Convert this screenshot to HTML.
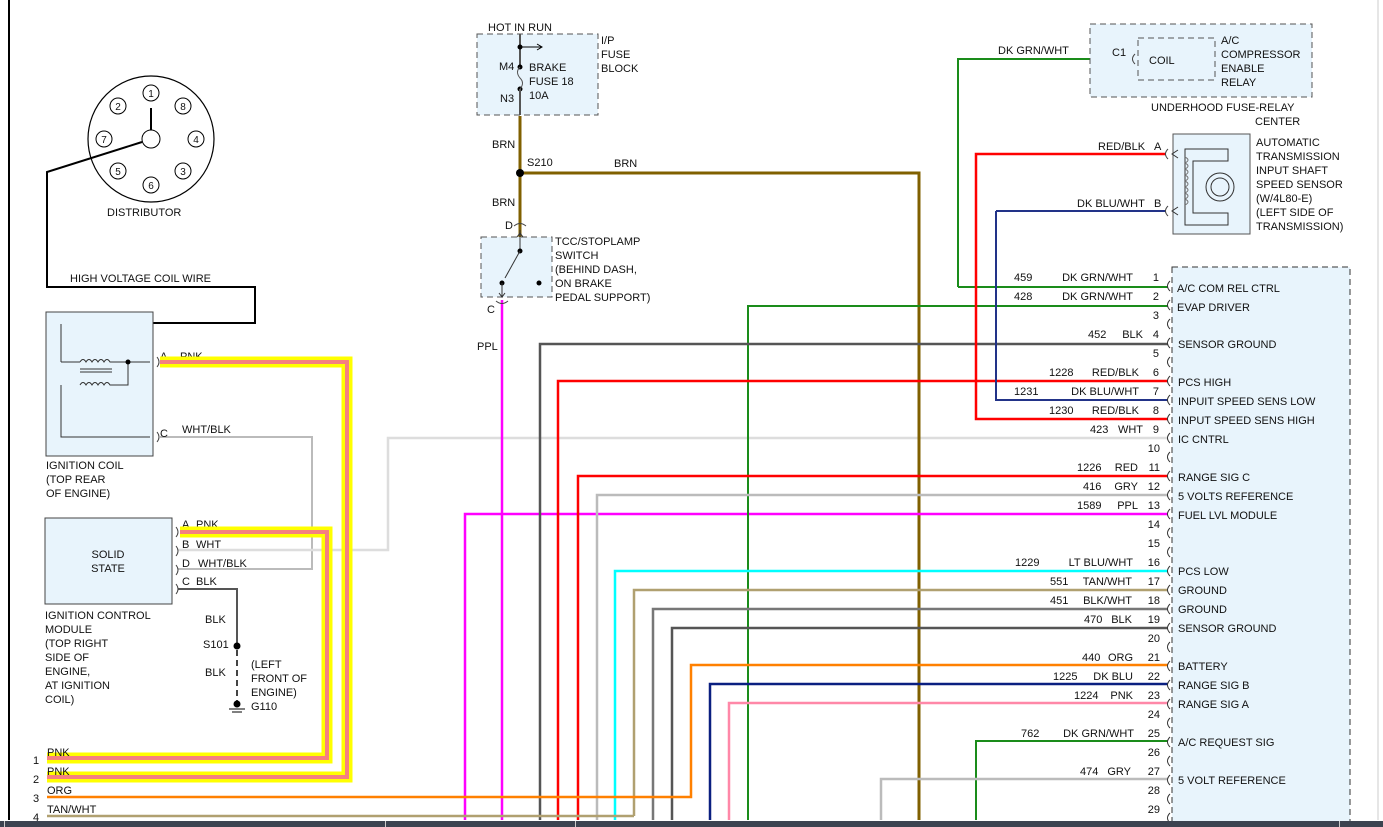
<!DOCTYPE html>
<html><head><meta charset="utf-8"><style>
html,body{margin:0;padding:0;background:#fff;width:1383px;height:827px;overflow:hidden}
svg{display:block}
text{font-family:"Liberation Sans",sans-serif;font-size:11px;fill:#111}
</style></head><body>
<svg width="1383" height="827" viewBox="0 0 1383 827">
<rect x="0" y="0" width="1383" height="827" fill="#fff"/>
<line x1="9" y1="0" x2="9" y2="820" stroke="#000" stroke-width="2"/>
<line x1="1378" y1="0" x2="1378" y2="820" stroke="#ccc" stroke-width="1"/>

<!-- Distributor -->
<circle cx="151" cy="139" r="63" fill="none" stroke="#000" stroke-width="1.2"/>
<g fill="#fff" stroke="#000" stroke-width="1">
<circle cx="151" cy="93" r="8"/><circle cx="118" cy="106" r="8"/><circle cx="183" cy="106" r="8"/>
<circle cx="104" cy="139" r="8"/><circle cx="196" cy="139" r="8"/><circle cx="118" cy="171" r="8"/>
<circle cx="183" cy="171" r="8"/><circle cx="151" cy="185" r="8"/><circle cx="151" cy="139" r="9"/>
</g>
<line x1="151" y1="108" x2="151" y2="130" stroke="#000" stroke-width="2"/>
<g font-size="10" text-anchor="middle">
<text x="151" y="97" style="font-size:10px">1</text><text x="118" y="110" style="font-size:10px">2</text><text x="183" y="110" style="font-size:10px">8</text>
<text x="104" y="143" style="font-size:10px">7</text><text x="196" y="143" style="font-size:10px">4</text><text x="118" y="175" style="font-size:10px">5</text>
<text x="183" y="175" style="font-size:10px">3</text><text x="151" y="189" style="font-size:10px">6</text>
</g>
<text x="107" y="216">DISTRIBUTOR</text>
<polyline points="142,142 47,172 47,287 255,287 255,323 153,323" fill="none" stroke="#000" stroke-width="2"/>
<text x="70" y="282">HIGH VOLTAGE COIL WIRE</text>

<!-- Ignition coil -->
<rect x="46" y="312" width="107" height="144" fill="#e8f4fc" stroke="#444" stroke-width="1"/>
<polyline points="61,362 80,362" fill="none" stroke="#333"/>
<polyline points="61,324 61,362" fill="none" stroke="#333"/>
<path d="M80,362 q3,-5 6,0 q3,-5 6,0 q3,-5 6,0 q3,-5 6,0 q3,-5 6,0 L150,362" fill="none" stroke="#333"/>
<line x1="80" y1="369" x2="112" y2="369" stroke="#333"/><line x1="80" y1="372" x2="112" y2="372" stroke="#333"/>
<path d="M80,385 q3,-5 6,0 q3,-5 6,0 q3,-5 6,0 q3,-5 6,0 q3,-5 6,0 L128,385 L128,362" fill="none" stroke="#333"/>
<circle cx="128" cy="362" r="2.5" fill="#000"/>
<polyline points="61,385 61,437 150,437" fill="none" stroke="#333"/>
<text x="46" y="469">IGNITION COIL</text><text x="46" y="483">(TOP REAR</text><text x="46" y="497">OF ENGINE)</text>

<!-- ICM -->
<rect x="45" y="518" width="127" height="86" fill="#e8f4fc" stroke="#444"/>
<text x="108" y="558" text-anchor="middle">SOLID</text><text x="108" y="572" text-anchor="middle">STATE</text>
<text x="45" y="619">IGNITION CONTROL</text><text x="45" y="633">MODULE</text><text x="45" y="647">(TOP RIGHT</text>
<text x="45" y="661">SIDE OF</text><text x="45" y="675">ENGINE,</text><text x="45" y="689">AT IGNITION</text><text x="45" y="703">COIL)</text>

<!-- gray wires left -->
<polyline points="160,437 312,437 312,569 178,569" fill="none" stroke="#bbb" stroke-width="2"/>
<polyline points="178,550 388,550 388,438 1168,438" fill="none" stroke="#ddd" stroke-width="2.5"/>
<polyline points="178,589 237,589 237,645" fill="none" stroke="#555" stroke-width="2"/>
<line x1="237" y1="650" x2="237" y2="702" stroke="#444" stroke-width="2" stroke-dasharray="6,4"/>
<circle cx="237" cy="646" r="3.5" fill="#000"/><circle cx="237" cy="704" r="3.5" fill="#000"/>
<line x1="229" y1="709" x2="245" y2="709" stroke="#000"/><line x1="232" y1="712" x2="242" y2="712" stroke="#000"/>
<text x="205" y="623">BLK</text><text x="203" y="648">S101</text><text x="205" y="676">BLK</text>
<text x="251" y="668">(LEFT</text><text x="251" y="682">FRONT OF</text><text x="251" y="696">ENGINE)</text><text x="251" y="710">G110</text>
<text x="160" y="360">A</text><text x="180" y="360">PNK</text>
<text x="160" y="437">C</text><text x="182" y="433">WHT/BLK</text>
<text x="182" y="528">A</text><text x="196" y="528">PNK</text>
<text x="182" y="548">B</text><text x="196" y="548">WHT</text>
<text x="182" y="567">D</text><text x="198" y="567">WHT/BLK</text>
<text x="182" y="585">C</text><text x="196" y="585">BLK</text>
<g fill="none" stroke="#444" stroke-width="1">
<path d="M157,357 q4,5 0,10"/><path d="M157,432 q4,5 0,10"/>
<path d="M176,527 q4,5 0,10"/><path d="M176,546 q4,5 0,10"/><path d="M176,565 q4,5 0,10"/><path d="M176,584 q4,5 0,10"/>
</g>

<!-- pink/yellow -->
<polyline points="160,362 347,362 347,777 47,777" fill="none" stroke="#ffff00" stroke-width="11"/>
<polyline points="180,532 327,532 327,758 47,758" fill="none" stroke="#ffff00" stroke-width="11"/>
<polyline points="160,362 347,362 347,777 47,777" fill="none" stroke="#f58080" stroke-width="4"/>
<polyline points="180,532 327,532 327,758 47,758" fill="none" stroke="#f58080" stroke-width="4"/>
<text x="47" y="756">PNK</text><text x="47" y="775">PNK</text><text x="47" y="794">ORG</text><text x="47" y="813">TAN/WHT</text>
<text x="33" y="764">1</text><text x="33" y="783">2</text><text x="33" y="802">3</text><text x="33" y="821">4</text>

<!-- vertical/horizontal colored wires -->
<g fill="none" stroke-width="2">
<polyline points="520,116 520,240" stroke="#806000" stroke-width="3"/>
<polyline points="520,173 919,173 919,820" stroke="#806000" stroke-width="3"/>
<polyline points="502,300 502,820" stroke="#ff00ff" stroke-width="2.5"/>
<polyline points="465,820 465,514 1168,514" stroke="#ff00ff" stroke-width="2.5"/>
<polyline points="958,287 958,59 1140,59" stroke="#1a8c1a"/>
<polyline points="958,287 1168,287" stroke="#1a8c1a"/>
<polyline points="748,820 748,306 1168,306" stroke="#1a8c1a"/>
<polyline points="540,820 540,344 1168,344" stroke="#555" stroke-width="2.5"/>
<polyline points="558,820 558,381 1168,381" stroke="#ff0000" stroke-width="2.5"/>
<polyline points="996,211 996,400 1168,400" stroke="#223388"/>
<polyline points="1166,211 996,211" stroke="#223388"/>
<polyline points="1166,154 976,154 976,419 1168,419" stroke="#ff0000" stroke-width="2.5"/>
<polyline points="578,820 578,476 1168,476" stroke="#ff0000" stroke-width="2.5"/>
<polyline points="597,820 597,495 1168,495" stroke="#bbb" stroke-width="2.5"/>
<polyline points="615,820 615,571 1168,571" stroke="#00ffff" stroke-width="2.5"/>
<polyline points="634,816 634,590 1168,590" stroke="#b0a070" stroke-width="2.5"/>
<polyline points="47,816 634,816" stroke="#b0a070" stroke-width="2.5"/>
<polyline points="653,820 653,609 1168,609" stroke="#777" stroke-width="2.5"/>
<polyline points="672,820 672,628 1168,628" stroke="#555" stroke-width="2.5"/>
<polyline points="47,797 691,797 691,665 1168,665" stroke="#ff8000" stroke-width="2.5"/>
<polyline points="710,820 710,684 1168,684" stroke="#0a1f80" stroke-width="2.5"/>
<polyline points="729,820 729,703 1168,703" stroke="#ff88a8" stroke-width="2.5"/>
<polyline points="976,820 976,741 1168,741" stroke="#1a8c1a"/>
<polyline points="881,820 881,779 1168,779" stroke="#bbb" stroke-width="2.5"/>
</g>

<!-- Fuse block -->
<rect x="477" y="34" width="121" height="81" fill="#e8f4fc" stroke="#555" stroke-dasharray="6,4"/>
<line x1="520" y1="34" x2="520" y2="67" stroke="#555" stroke-width="2"/>
<line x1="520" y1="47" x2="542" y2="47" stroke="#000"/><path d="M537,44 L542,47 L537,50" fill="none" stroke="#000"/>
<circle cx="520" cy="47" r="2.5" fill="#000"/><circle cx="520" cy="67" r="2.5" fill="#000"/><circle cx="520" cy="89" r="2.5" fill="#000"/>
<path d="M520,67 q-5,5 0,11 q5,5 0,11" fill="none" stroke="#555"/>
<line x1="520" y1="89" x2="520" y2="115" stroke="#555" stroke-width="2"/>
<text x="488" y="31">HOT IN RUN</text>
<text x="499" y="70">M4</text><text x="500" y="102">N3</text>
<text x="529" y="71">BRAKE</text><text x="529" y="85">FUSE 18</text><text x="529" y="99">10A</text>
<text x="601" y="44">I/P</text><text x="601" y="58">FUSE</text><text x="601" y="72">BLOCK</text>
<text x="492" y="148">BRN</text><text x="527" y="166">S210</text><text x="614" y="167">BRN</text><text x="492" y="206">BRN</text>
<circle cx="520" cy="173" r="4" fill="#000"/>

<!-- TCC switch -->
<rect x="481" y="237" width="71" height="60" fill="#e8f4fc" stroke="#555" stroke-dasharray="6,4"/>
<path d="M514,226 q6,-5 12,0" fill="none" stroke="#444"/><path d="M496,301 q6,5 12,0" fill="none" stroke="#444"/>
<line x1="520" y1="230" x2="520" y2="251" stroke="#333"/><path d="M517,237 L520,233 L523,237" fill="none" stroke="#333"/>
<circle cx="520" cy="251" r="2.5" fill="#000"/>
<line x1="520" y1="251" x2="505" y2="278" stroke="#333"/>
<circle cx="502" cy="283" r="2.5" fill="#000"/><circle cx="539" cy="283" r="2.5" fill="#000"/>
<line x1="502" y1="283" x2="502" y2="297" stroke="#333"/><path d="M499,293 L502,297 L505,293" fill="none" stroke="#333"/>
<text x="505" y="229">D</text><text x="487" y="313">C</text>
<text x="555" y="245">TCC/STOPLAMP</text><text x="555" y="259">SWITCH</text><text x="555" y="273">(BEHIND DASH,</text>
<text x="555" y="287">ON BRAKE</text><text x="555" y="301">PEDAL SUPPORT)</text>
<text x="477" y="350">PPL</text>

<!-- Underhood relay -->
<rect x="1090" y="24" width="222" height="73" fill="#e8f4fc" stroke="#555" stroke-dasharray="6,4"/>
<rect x="1138" y="38" width="77" height="42" fill="#e8f4fc" stroke="#555" stroke-dasharray="6,4"/>
<path d="M1135,54 q-5,5 0,10" fill="none" stroke="#444"/>
<text x="1112" y="56">C1</text><text x="1149" y="64">COIL</text>
<text x="1221" y="44">A/C</text><text x="1221" y="58">COMPRESSOR</text><text x="1221" y="72">ENABLE</text><text x="1221" y="86">RELAY</text>
<text x="1151" y="111">UNDERHOOD FUSE-RELAY</text><text x="1255" y="125">CENTER</text>
<text x="998" y="54">DK GRN/WHT</text>

<!-- Speed sensor -->
<rect x="1173" y="134" width="77" height="100" fill="#e8f4fc" stroke="#555"/>
<path d="M1228,149 L1185,149 L1185,225 L1228,225 L1228,213 L1193,213 L1193,161 L1228,161 Z" fill="none" stroke="#333"/>
<path d="M1185,157 q6,3 0,6 q6,3 0,6 q6,3 0,6 q6,3 0,6 q6,3 0,6 q6,3 0,6 q6,3 0,6 q6,3 0,6" fill="none" stroke="#777"/>
<circle cx="1220" cy="187" r="14" fill="none" stroke="#333"/>
<circle cx="1220" cy="187" r="9" fill="none" stroke="#333"/>
<path d="M1168,149 q-5,5 0,10 M1168,206 q-5,5 0,10" fill="none" stroke="#444"/>
<path d="M1178,150 L1172,154 L1178,158 M1178,207 L1172,211 L1178,215" fill="none" stroke="#333"/>
<text x="1098" y="150">RED/BLK</text><text x="1154" y="150">A</text>
<text x="1077" y="207">DK BLU/WHT</text><text x="1154" y="207">B</text>
<text x="1256" y="146">AUTOMATIC</text><text x="1256" y="160">TRANSMISSION</text><text x="1256" y="174">INPUT SHAFT</text>
<text x="1256" y="188">SPEED SENSOR</text><text x="1256" y="202">(W/4L80-E)</text><text x="1256" y="216">(LEFT SIDE OF</text><text x="1256" y="230">TRANSMISSION)</text>

<!-- PCM connector -->
<rect x="1172" y="267" width="178" height="560" fill="#e8f4fc" stroke="#333" stroke-dasharray="6,4"/>
<g fill="none" stroke="#333">
<path d="M1170,281 q-5,5 0,10 M1170,300 q-5,5 0,10 M1170,319 q-5,5 0,10 M1170,338 q-5,5 0,10 M1170,357 q-5,5 0,10 M1170,376 q-5,5 0,10 M1170,395 q-5,5 0,10 M1170,414 q-5,5 0,10 M1170,433 q-5,5 0,10 M1170,452 q-5,5 0,10 M1170,471 q-5,5 0,10 M1170,490 q-5,5 0,10 M1170,509 q-5,5 0,10 M1170,528 q-5,5 0,10 M1170,547 q-5,5 0,10 M1170,566 q-5,5 0,10 M1170,585 q-5,5 0,10 M1170,604 q-5,5 0,10 M1170,623 q-5,5 0,10 M1170,642 q-5,5 0,10 M1170,661 q-5,5 0,10 M1170,680 q-5,5 0,10 M1170,699 q-5,5 0,10 M1170,718 q-5,5 0,10 M1170,737 q-5,5 0,10 M1170,756 q-5,5 0,10 M1170,775 q-5,5 0,10 M1170,794 q-5,5 0,10 M1170,813 q-5,5 0,10"/>
</g>
<g text-anchor="end">
<text x="1159" y="281">1</text><text x="1159" y="300">2</text><text x="1159" y="319">3</text><text x="1159" y="338">4</text><text x="1159" y="357">5</text>
<text x="1159" y="376">6</text><text x="1159" y="395">7</text><text x="1159" y="414">8</text><text x="1159" y="433">9</text><text x="1160" y="452">10</text>
<text x="1160" y="471">11</text><text x="1160" y="490">12</text><text x="1160" y="509">13</text><text x="1160" y="528">14</text><text x="1160" y="547">15</text>
<text x="1160" y="566">16</text><text x="1160" y="585">17</text><text x="1160" y="604">18</text><text x="1160" y="623">19</text><text x="1160" y="642">20</text>
<text x="1160" y="661">21</text><text x="1160" y="680">22</text><text x="1160" y="699">23</text><text x="1160" y="718">24</text><text x="1160" y="737">25</text>
<text x="1160" y="756">26</text><text x="1160" y="775">27</text><text x="1160" y="794">28</text><text x="1160" y="813">29</text>
<text x="1133" y="281">DK GRN/WHT</text><text x="1133" y="300">DK GRN/WHT</text>
<text x="1143" y="338">BLK</text><text x="1139" y="376">RED/BLK</text><text x="1139" y="395">DK BLU/WHT</text><text x="1139" y="414">RED/BLK</text>
<text x="1143" y="433">WHT</text><text x="1138" y="471">RED</text><text x="1138" y="490">GRY</text><text x="1138" y="509">PPL</text>
<text x="1133" y="566">LT BLU/WHT</text><text x="1132" y="585">TAN/WHT</text><text x="1132" y="604">BLK/WHT</text><text x="1132" y="623">BLK</text>
<text x="1133" y="661">ORG</text><text x="1133" y="680">DK BLU</text><text x="1133" y="699">PNK</text><text x="1134" y="737">DK GRN/WHT</text><text x="1131" y="775">GRY</text>
</g>
<text x="1014" y="281">459</text><text x="1014" y="300">428</text><text x="1088" y="338">452</text>
<text x="1049" y="376">1228</text><text x="1014" y="395">1231</text><text x="1049" y="414">1230</text><text x="1090" y="433">423</text>
<text x="1077" y="471">1226</text><text x="1083" y="490">416</text><text x="1077" y="509">1589</text>
<text x="1015" y="566">1229</text><text x="1050" y="585">551</text><text x="1050" y="604">451</text><text x="1084" y="623">470</text>
<text x="1082" y="661">440</text><text x="1053" y="680">1225</text><text x="1074" y="699">1224</text><text x="1021" y="737">762</text><text x="1080" y="775">474</text>
<text x="1177" y="292">A/C COM REL CTRL</text><text x="1177" y="311">EVAP DRIVER</text><text x="1178" y="348">SENSOR GROUND</text>
<text x="1178" y="386">PCS HIGH</text><text x="1178" y="405">INPUIT SPEED SENS LOW</text><text x="1178" y="424">INPUT SPEED SENS HIGH</text>
<text x="1178" y="443">IC CNTRL</text><text x="1178" y="481">RANGE SIG C</text><text x="1178" y="500">5 VOLTS REFERENCE</text>
<text x="1178" y="519">FUEL LVL MODULE</text><text x="1178" y="575">PCS LOW</text><text x="1178" y="594">GROUND</text>
<text x="1178" y="613">GROUND</text><text x="1178" y="632">SENSOR GROUND</text><text x="1178" y="670">BATTERY</text>
<text x="1178" y="689">RANGE SIG B</text><text x="1178" y="708">RANGE SIG A</text><text x="1178" y="746">A/C REQUEST SIG</text>
<text x="1178" y="784">5 VOLT REFERENCE</text>

<!-- bottom bar -->
<rect x="0" y="821" width="1383" height="6" fill="#3c4350"/>
<rect x="4" y="821" width="1" height="6" fill="#ccc"/><rect x="385" y="821" width="1" height="6" fill="#ccc"/>
<rect x="575" y="821" width="1" height="6" fill="#ccc"/><rect x="1339" y="821" width="1" height="6" fill="#ccc"/>
</svg>
</body></html>
